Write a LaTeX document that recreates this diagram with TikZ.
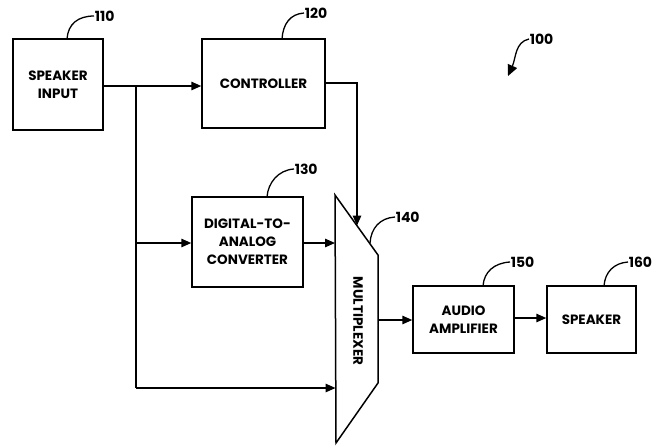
\documentclass[tikz,border=0pt]{standalone}
\usepackage{fontspec}
\setmainfont{Poppins}
\usetikzlibrary{arrows.meta}
\begin{document}
\begin{tikzpicture}[x=1pt,y=-1pt,
  line width=1.5pt,
  lbl/.style={font=\fontsize{13.5}{18}\selectfont\bfseries},
  blk/.style={draw,line width=1.5pt,rectangle,inner sep=0pt,align=center,lbl},
  conn/.style={-{Triangle[length=10pt,width=8.5pt]}},
  lead/.style={line width=1.3pt},
  num/.style={font=\fontsize{14}{16}\selectfont\bfseries,inner sep=0pt,anchor=west}]
\useasboundingbox (0,0) rectangle (662,445);
% blocks
\node[blk,minimum width=90pt,minimum height=91pt] (spin) at (58,84.5) {SPEAKER\\INPUT};
\node[blk,minimum width=123pt,minimum height=89pt] (ctrl) at (263.5,83.5) {CONTROLLER};
\node[blk,minimum width=111pt,minimum height=90pt] (dac) at (247.5,242) {DIGITAL-TO-\\ANALOG\\CONVERTER};
\node[blk,minimum width=101pt,minimum height=67pt] (amp) at (463.5,319.5) {AUDIO\\AMPLIFIER};
\node[blk,minimum width=89pt,minimum height=67pt] (spk) at (591.5,319.5) {SPEAKER};
% multiplexer
\coordinate (m1) at (335,195);
\coordinate (m2) at (378,255);
\coordinate (m3) at (378,383);
\coordinate (m4) at (336,443);
\draw[line join=miter] (m1) -- (m2) -- (m3) -- (m4) -- cycle;
\node[rotate=-90,lbl,inner sep=0pt] (muxlbl) at (358,321) {MULTIPLEXER};
\coordinate (muxin1) at (335,243);
\coordinate (muxin2) at (335.5,388);
\coordinate (muxtop) at (357,225.5);
\coordinate (muxout) at (378,320);
% connectors
\coordinate (j1) at (136,86);
\coordinate (j2) at (136,243);
\coordinate (j3) at (136,388);
\coordinate (c1) at (357,83);
\draw[conn] (spin.east |- j1) -- (ctrl.west |- j1);
\draw (j1) -- (j3);
\draw[conn] (j2) -- (dac.west |- j2);
\draw[conn] (dac.east |- muxin1) -- (muxin1);
\draw[conn] (j3) -- (muxin2);
\draw[conn] (ctrl.east |- c1) -- (c1) -- (muxtop);
\draw[conn] (muxout) -- (amp.west |- muxout);
\draw[conn] (amp.east |- 0,318) -- (spk.west |- 0,318);
% reference numerals
\node[num] (n110) at (94,16) {110};
\draw[lead] (67,39) .. controls (68,24) and (78,16) .. (n110.west);
\node[num] (n120) at (304,13) {120};
\draw[lead] (282,39) .. controls (283,24) and (290,14) .. (n120.west);
\node[num] (n130) at (294,169) {130};
\draw[lead] (267,197) .. controls (268,183) and (278,170) .. (n130.west);
\node[num] (n140) at (395,217) {140};
\draw[lead] (370,243) .. controls (371,228) and (380,218) .. (n140.west);
\node[num] (n150) at (510,262) {150};
\draw[lead] (483,286) .. controls (484,272) and (494,263) .. (n150.west);
\node[num] (n160) at (628,262) {160};
\draw[lead] (604,286) .. controls (605,272) and (614,263) .. (n160.west);
\node[num] (n100) at (529,39) {100};
\draw[lead,-{Triangle[length=11pt,width=10pt]}] (n100.west) .. controls (515,42) and (516,58) .. (508,76);
\end{tikzpicture}
\end{document}
